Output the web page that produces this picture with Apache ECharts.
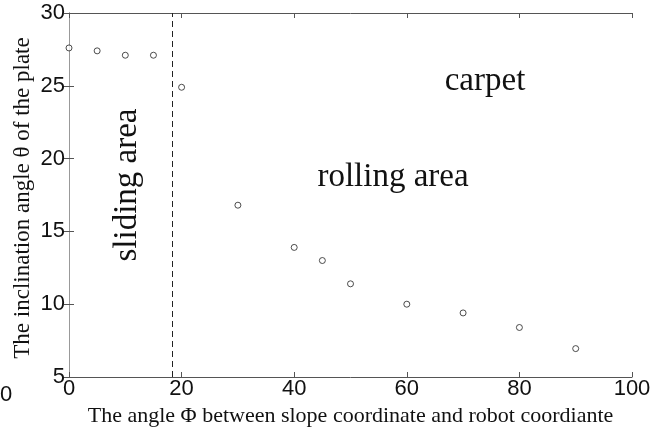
<!DOCTYPE html>
<html>
<head>
<meta charset="utf-8">
<style>
  html, body { margin: 0; padding: 0; background: #fff; }
  #chart { width: 662px; height: 432px; }
</style>
<script src="https://cdn.jsdelivr.net/npm/echarts@6/dist/echarts.min.js"></script>
</head>
<body>
<div id="chart"></div>
<script>
  // measured angles: phi (deg) vs plate inclination theta (deg)
  const phiValues = [0, 5, 10, 15, 20, 30, 40, 45, 50, 60, 70, 80, 90];
  const thetaValues = [27.6, 27.4, 27.1, 27.1, 24.9, 16.8, 13.9, 13.0, 11.4, 10.0, 9.4, 8.4, 6.95];
  const boundaryPhi = 18.4;
  const xTicks = [0, 20, 40, 60, 80, 100];
  const yTicks = [5, 10, 15, 20, 25, 30];

  const serif = '"Liberation Serif", "DejaVu Serif", serif';
  const sans = '"Liberation Sans", Arial, sans-serif';
  const axisColor = '#555';

  const chart = echarts.init(document.getElementById('chart'));

  const tickStyle = {show: true, inside: true, length: 5, lineStyle: {color: axisColor}};

  const option = {
    animation: false,
    backgroundColor: '#fff',
    grid: {left: 69, top: 13, right: 30, bottom: 55},
    xAxis: [{
      type: 'value',
      min: xTicks[0], max: xTicks[xTicks.length - 1], interval: 20,
      name: 'The angle \u03a6 between slope coordinate and robot coordiante',
      nameLocation: 'middle', nameGap: 13,
      nameTextStyle: {fontFamily: serif, fontSize: 22, color: '#111'},
      axisLine: {show: true, lineStyle: {color: axisColor}},
      axisTick: tickStyle,
      splitLine: {show: false},
      axisLabel: {fontFamily: sans, fontSize: 22, color: '#111', margin: 1}
    }, {
      type: 'value', position: 'top',
      min: xTicks[0], max: xTicks[xTicks.length - 1], interval: 20,
      axisLine: {show: true, lineStyle: {color: axisColor}},
      axisTick: tickStyle,
      axisLabel: {show: false},
      splitLine: {show: false}
    }],
    yAxis: [{
      type: 'value',
      min: yTicks[0], max: yTicks[yTicks.length - 1], interval: 5,
      axisLine: {show: true, lineStyle: {color: axisColor}},
      axisTick: tickStyle,
      splitLine: {show: false},
      axisLabel: {fontFamily: sans, fontSize: 22, color: '#111', margin: 4}
    }, {
      type: 'value', position: 'right',
      min: yTicks[0], max: yTicks[yTicks.length - 1], interval: 5,
      axisLine: {show: true, lineStyle: {color: '#999'}},
      axisTick: tickStyle,
      axisLabel: {show: false},
      splitLine: {show: false}
    }],
    series: [{
      type: 'scatter',
      data: phiValues.map((p, i) => [p, thetaValues[i]]),
      symbol: 'circle',
      symbolSize: 6,
      itemStyle: {color: '#fff', borderColor: '#222', borderWidth: 1},
      markLine: {
        silent: true,
        symbol: 'none',
        label: {show: false},
        lineStyle: {color: '#222', type: [6, 4], width: 1},
        data: [{xAxis: boundaryPhi}]
      }
    }],
    graphic: [
      // y axis title
      {type: 'text', x: 23, y: 198, rotation: Math.PI / 2,
        style: {text: 'The inclination angle \u03b8 of the plate', font: '23px ' + serif,
          fill: '#111', align: 'center', verticalAlign: 'middle'}},
      {type: 'text', left: 0, top: 384,
        style: {text: '0', font: '22px ' + sans, fill: '#111', x: -5}},
      {type: 'text', x: 127, y: 185, rotation: Math.PI / 2,
        style: {text: 'sliding area', font: '33px ' + serif, fill: '#111',
          align: 'center', verticalAlign: 'middle'}},
      {type: 'text', x: 393, y: 177,
        style: {text: 'rolling area', font: '33px ' + serif, fill: '#111',
          align: 'center', verticalAlign: 'middle'}},
      {type: 'text', x: 485, y: 81,
        style: {text: 'carpet', font: '33px ' + serif, fill: '#111',
          align: 'center', verticalAlign: 'middle'}}
    ]
  };

  chart.setOption(option);
</script>
</body>
</html>
